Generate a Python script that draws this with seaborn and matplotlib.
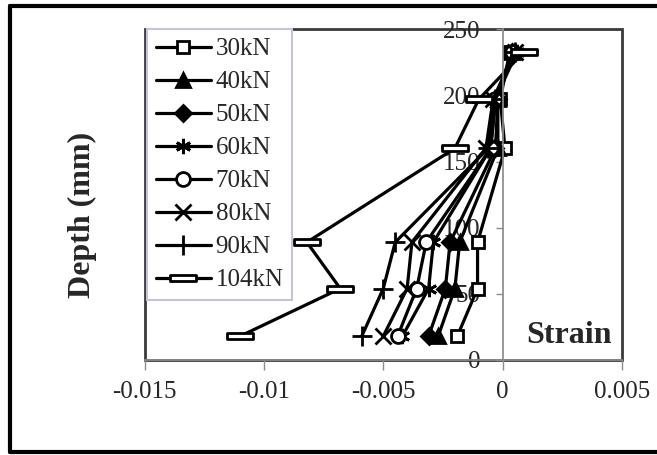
import matplotlib
matplotlib.use("Agg")
import matplotlib.pyplot as plt
from matplotlib.lines import Line2D
from matplotlib.patches import Rectangle
from matplotlib.path import Path
import numpy as np
import pandas as pd
import seaborn as sns

# data
depth = [18, 54, 89, 160, 197, 233]
loads = ["30kN", "40kN", "50kN", "60kN", "70kN", "80kN", "90kN", "104kN"]
strain_30 = [-0.0019, -0.00105, -0.00105, 0.0001, -0.0001, 0.0003]
strain_40 = [-0.0027, -0.0020, -0.0018, -0.0002, -0.0002, 0.0004]
strain_50 = [-0.0031, -0.0024, -0.0022, -0.0003, -0.0002, 0.0004]
strain_60 = [-0.0042, -0.0031, -0.0029, -0.0005, -0.0003, 0.0006]
strain_70 = [-0.0044, -0.0036, -0.0032, -0.0005, -0.0003, 0.0004]
strain_80 = [-0.0050, -0.0040, -0.0038, -0.0007, -0.0004, 0.0005]
strain_90 = [-0.0059, -0.0050, -0.0045, -0.0006, -0.0003, 0.0005]
strain_104 = [-0.0110, -0.0068, -0.0082, -0.0020, -0.0010, 0.0009]
xticks = [-0.015, -0.01, -0.005, 0, 0.005]
xticklabels = ["-0.015", "-0.01", "-0.005", "0", "0.005"]
yticks = [0, 50, 100, 150, 200, 250]

all_strain = [strain_30, strain_40, strain_50, strain_60,
              strain_70, strain_80, strain_90, strain_104]
df = pd.DataFrame({
    "strain": np.concatenate(all_strain),
    "depth": depth * len(loads),
    "load": np.repeat(loads, len(depth)),
})

sns.set_theme(style="white")
plt.rcParams["font.family"] = ["Liberation Serif", "DejaVu Serif"]

rect = Path([(-1, -0.25), (1, -0.25), (1, 0.25), (-1, 0.25), (-1, -0.25)],
            [Path.MOVETO, Path.LINETO, Path.LINETO, Path.LINETO, Path.CLOSEPOLY])
mk = {"30kN": ("s", 9, "white"), "40kN": ("^", 10, "black"),
      "50kN": ("D", 8, "black"), "60kN": ((6, 2, 0), 11, "black"),
      "70kN": ("o", 10, "white"), "80kN": ("x", 11, "black"),
      "90kN": ("+", 14, "black"), "104kN": (rect, 19, "white")}

fig = plt.figure(figsize=(6.57, 4.55), dpi=100)
ax = fig.add_axes([0.22, 0.2088, 0.7267, 0.727])

sns.lineplot(data=df, x="strain", y="depth", hue="load", hue_order=loads,
             palette=["black"] * len(loads), estimator=None, sort=False,
             legend=False, lw=2.3, ax=ax)

for line, name in zip(ax.lines, loads):
    m, s, fc = mk[name]
    line.set_marker(m)
    line.set_markersize(s)
    line.set_markerfacecolor(fc)
    line.set_markeredgecolor("black")
    line.set_markeredgewidth(2)
    line.set_label(name)

ax.set_xlim(-0.015, 0.005)
ax.set_ylim(0, 250)
ax.set_xticks(xticks)
ax.set_xticklabels(xticklabels)
ax.set_yticks(yticks)

for s in ["top", "right"]:
    ax.spines[s].set_visible(False)
ax.spines["left"].set_position(("data", 0))
ax.spines["left"].set_color("#8c8c8c")
ax.spines["bottom"].set_color("#8c8c8c")
ax.add_patch(Rectangle((0, 0), 1, 1, transform=ax.transAxes, fill=False,
                       edgecolor="#3a3a3a", lw=2, clip_on=False, zorder=0))

ax.tick_params(axis="x", direction="out", length=7, width=1, color="#8c8c8c",
               labelsize=18, pad=8, bottom=True)
ax.tick_params(axis="y", direction="out", length=5, width=1, color="#8c8c8c",
               labelsize=18, pad=11, left=True)

ax.set_xlabel("Strain", fontsize=23, fontweight="bold")
ax.xaxis.set_label_coords(0.89, 0.118)
ax.set_ylabel("Depth (mm)", fontsize=23, fontweight="bold")
ax.yaxis.set_label_coords(-0.10, 0.44)

leg = ax.legend(handles=ax.lines, labels=loads, loc="upper left",
                bbox_to_anchor=(0.005, 1.0), fontsize=18, frameon=True,
                fancybox=False, framealpha=1, labelspacing=0.42,
                handlelength=2.2, handletextpad=0.2, borderpad=0.35,
                borderaxespad=0)
leg.get_frame().set_edgecolor("#c8c0dc")
leg.get_frame().set_linewidth(1.5)

# outer frame of the picture
fig.add_artist(Line2D([0.0152, 0.0152], [0.0066, 0.987], lw=3, color="black"))
fig.add_artist(Line2D([0.0152, 1.0], [0.987, 0.987], lw=3, color="black"))
fig.add_artist(Line2D([0.0152, 1.0], [0.0066, 0.0066], lw=3, color="black"))

fig.savefig("out.png", dpi=100)
